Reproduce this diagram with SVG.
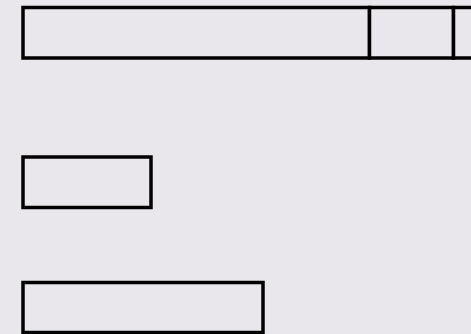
<svg xmlns="http://www.w3.org/2000/svg" width="471" height="334" viewBox="0 0 471 334">
  <style>
    .box { fill: #E9E7EC; stroke: #000; stroke-width: 3.5; }
  </style>
  <rect x="0" y="0" width="471" height="334" fill="#E9E7EC"/>
  <g id="node-top">
    <rect class="box" x="23" y="7.5" width="346.5" height="50.5"/>
    <rect class="box" x="369.5" y="7.5" width="84" height="50.5"/>
    <rect class="box" x="453.5" y="7.5" width="40" height="50.5"/>
  </g>
  <g id="node-middle">
    <rect class="box" x="23" y="157" width="128" height="50.5"/>
  </g>
  <g id="node-bottom">
    <rect class="box" x="23" y="282.5" width="240" height="50"/>
  </g>
  <g id="connectors"></g>
</svg>
